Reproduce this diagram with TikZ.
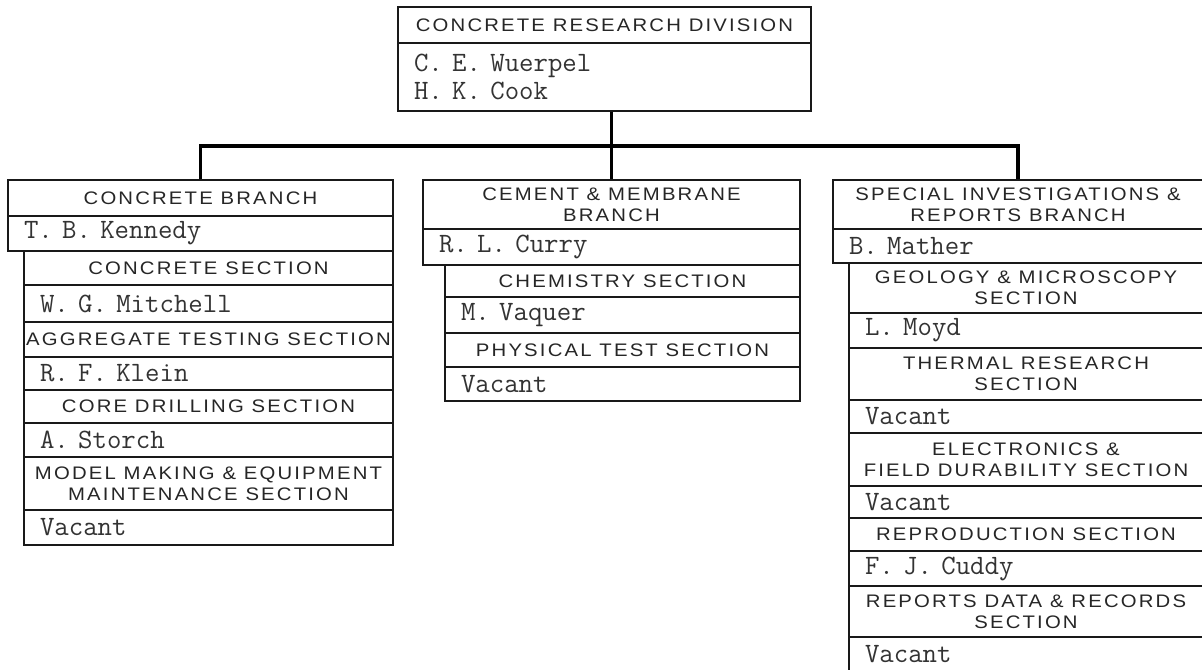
\documentclass[tikz,border=0pt]{standalone}
\usepackage{fontspec}
\newfontfamily\hdfont{Liberation Sans}[FakeStretch=1.12,LetterSpace=12]
\tikzset{
  hd/.style={draw=black!90, line width=1.1pt, inner sep=0pt, align=center,
    text=black!85, font=\hdfont\fontsize{13.6}{15.5}\selectfont},
  nm/.style={draw=black!90, line width=1.1pt, inner ysep=0pt, inner xsep=12pt, align=left,
    text=black!80, font=\ttfamily\fontsize{21}{21}\selectfont},
  conn/.style={line width=2.4pt, black}
}
\newcommand\hcell[6]{%
  \pgfmathsetmacro\cw{(#4-#2)*0.75}\pgfmathsetmacro\ch{(#5-#3)*0.75}%
  \node[hd, minimum width=\cw pt, minimum height=\ch pt] (#1) at ({(#2+#4)/2},{(#3+#5)/2}) {#6};}
\newcommand\ncell[6]{%
  \pgfmathsetmacro\cw{(#4-#2)*0.75-24}\pgfmathsetmacro\ch{(#5-#3)*0.75}%
  \node[nm, text width=\cw pt, minimum height=\ch pt] (#1) at ({(#2+#4)/2},{(#3+#5)/2}) {#6};}
\begin{document}
\begin{tikzpicture}[x=0.75pt,y=-0.75pt]
\useasboundingbox[fill=white] (0,0) rectangle (1202,669);
% division
\hcell{div}{398}{7}{811}{43}{CONCRETE RESEARCH DIVISION}
\ncell{divn}{398}{43}{811}{111}{C. E. Wuerpel\\H. K. Cook}
% concrete branch
\hcell{cb}{8}{180}{393}{216}{CONCRETE BRANCH}
\ncell{cbn}{8}{216}{393}{251}{T. B. Kennedy}
\hcell{sa}{24}{251}{393}{285}{CONCRETE SECTION}
\ncell{san}{24}{285}{393}{322}{W. G. Mitchell}
\hcell{sb}{24}{322}{393}{357}{AGGREGATE TESTING SECTION}
\ncell{sbn}{24}{357}{393}{390}{R. F. Klein}
\hcell{sc}{24}{390}{393}{423}{CORE DRILLING SECTION}
\ncell{scn}{24}{423}{393}{457}{A. Storch}
\hcell{sd}{24}{457}{393}{510}{MODEL MAKING \& EQUIPMENT\\MAINTENANCE SECTION}
\ncell{sdn}{24}{510}{393}{545}{Vacant}
% cement & membrane branch
\hcell{mb}{423}{180}{800}{229}{CEMENT \& MEMBRANE\\BRANCH}
\ncell{mbn}{423}{229}{800}{265}{R. L. Curry}
\hcell{ma}{445}{265}{800}{297}{CHEMISTRY SECTION}
\ncell{man}{445}{297}{800}{333}{M. Vaquer}
\hcell{mc}{445}{333}{800}{367}{PHYSICAL TEST SECTION}
\ncell{mcn}{445}{367}{800}{401}{Vacant}
% special investigations branch
\hcell{rb}{833}{180}{1203}{229}{SPECIAL INVESTIGATIONS \&\\REPORTS BRANCH}
\ncell{rbn}{833}{229}{1203}{263}{B. Mather}
\hcell{ra}{849}{263}{1203}{313}{GEOLOGY \& MICROSCOPY\\SECTION}
\ncell{ran}{849}{313}{1203}{348}{L. Moyd}
\hcell{rc}{849}{348}{1203}{400}{THERMAL RESEARCH\\SECTION}
\ncell{rcn}{849}{400}{1203}{433}{Vacant}
\hcell{rd}{849}{433}{1203}{486}{ELECTRONICS \&\\FIELD DURABILITY SECTION}
\ncell{rdn}{849}{486}{1203}{518}{Vacant}
\hcell{re}{849}{518}{1203}{551}{REPRODUCTION SECTION}
\ncell{ren}{849}{551}{1203}{586}{F. J. Cuddy}
\hcell{rf}{849}{586}{1203}{637}{REPORTS DATA \& RECORDS\\SECTION}
\ncell{rfn}{849}{637}{1203}{672}{Vacant}
% connectors
\coordinate (bus) at (0,146);
\draw[conn] (cb.north) -- (cb.north |- bus) -- (rb.north |- bus) -- (rb.north);
\draw[conn] (divn.south -| mb.north) -- (mb.north);
\end{tikzpicture}
\end{document}
